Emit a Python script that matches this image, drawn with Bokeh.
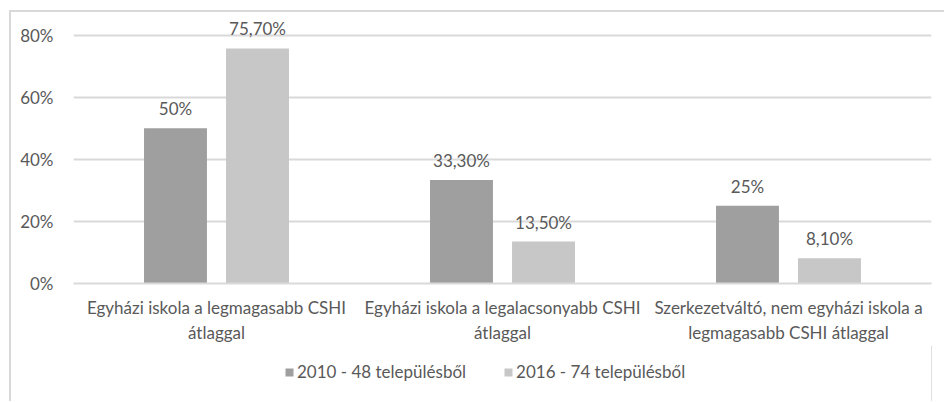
from bokeh.plotting import figure
from bokeh.layouts import column
from bokeh.models import ColumnDataSource, FixedTicker, Legend, LegendItem, LabelSet, Range1d
from bokeh.core.properties import value
from bokeh.embed import file_html
from bokeh.resources import INLINE

categories = ["Egyházi iskola a legmagasabb CSHI\nátlaggal",
              "Egyházi iskola a legalacsonyabb CSHI\nátlaggal",
              "Szerkezetváltó, nem egyházi iskola a\nlegmagasabb CSHI átlaggal"]
series_names = ["2010 - 48 településből", "2016 - 74 településből"]
values_2010 = [50.0, 33.3, 25.0]
values_2016 = [75.7, 13.5, 8.1]
labels_2010 = ["50%", "33,30%", "25%"]
labels_2016 = ["75,70%", "13,50%", "8,10%"]
y_ticks = [0, 20, 40, 60, 80]
y_tick_labels = ["0%", "20%", "40%", "60%", "80%"]

FONT = "Lato"
FS = "17px"
TXT = "#595959"
colors = ["#9f9f9f", "#c7c7c7"]

p = figure(width=933, height=333, output_backend="svg", toolbar_location=None,
           x_range=Range1d(0, 3), y_range=Range1d(0, 85))
p.min_border_left = 62
p.min_border_right = 13
p.min_border_top = 7
p.min_border_bottom = 61
p.outline_line_color = None
p.background_fill_color = "white"
p.border_fill_color = "white"

offs = 0.1434
w = 0.22
xs = [i + 0.5 for i in range(3)]
src1 = ColumnDataSource(dict(x=[x - offs for x in xs], top=values_2010, lab=labels_2010))
src2 = ColumnDataSource(dict(x=[x + offs for x in xs], top=values_2016, lab=labels_2016))
r1 = p.vbar(x="x", top="top", width=w, bottom=0, source=src1, fill_color=colors[0], line_color=None)
r2 = p.vbar(x="x", top="top", width=w, bottom=0, source=src2, fill_color=colors[1], line_color=None)

for src in (src1, src2):
    ls = LabelSet(x="x", y="top", text="lab", source=src, text_align="center",
                  text_baseline="bottom", y_offset=9, text_font=value(FONT),
                  text_font_size=FS, text_color=TXT)
    p.add_layout(ls)

p.yaxis.ticker = FixedTicker(ticks=y_ticks)
p.yaxis.major_label_overrides = {t: l for t, l in zip(y_ticks, y_tick_labels)}
p.yaxis.axis_line_color = None
p.yaxis.major_tick_line_color = None
p.yaxis.minor_tick_line_color = None
p.yaxis.major_label_standoff = 14
p.yaxis.major_label_text_font = FONT
p.yaxis.major_label_text_font_size = FS
p.yaxis.major_label_text_color = TXT

p.xaxis.ticker = FixedTicker(ticks=xs)
p.xaxis.major_label_overrides = {x: c for x, c in zip(xs, categories)}
p.xaxis.axis_line_color = "#d9d9d9"
p.xaxis.axis_line_width = 2
p.xaxis.major_tick_line_color = None
p.xaxis.minor_tick_line_color = None
p.xaxis.major_label_standoff = 7
p.xaxis.major_label_text_font = FONT
p.xaxis.major_label_text_font_size = FS
p.xaxis.major_label_text_color = TXT

p.xgrid.grid_line_color = None
p.ygrid.grid_line_color = "#d9d9d9"
p.ygrid.grid_line_width = 2

# legend strip
p2 = figure(width=933, height=56, output_backend="svg", toolbar_location=None,
            x_range=Range1d(0, 1), y_range=Range1d(0, 1),
            x_axis_location=None, y_axis_location=None, min_border=0)
p2.outline_line_color = None
p2.grid.grid_line_color = None
offscreen = ColumnDataSource(dict(x=[5.0], top=[1.0]))
d1 = p2.vbar(x="x", top="top", width=0.1, source=offscreen, fill_color=colors[0], line_color=None)
d2 = p2.vbar(x="x", top="top", width=0.1, source=offscreen, fill_color=colors[1], line_color=None)
legend = Legend(items=[LegendItem(label=series_names[0], renderers=[d1]),
                       LegendItem(label=series_names[1], renderers=[d2])],
                orientation="horizontal", location=(211, 19),
                label_text_font=FONT, label_text_font_size=FS, label_text_color=TXT,
                glyph_width=10, glyph_height=10, spacing=37, label_standoff=3,
                padding=0, margin=0,
                border_line_color=None, background_fill_alpha=0)
p2.add_layout(legend, "center")

layout = column(p, p2, spacing=0,
                styles={"border-top": "2px solid #d9d9d9", "border-left": "2px solid #d9d9d9",
                        "margin-top": "10px", "margin-left": "9px"})

open("out.html", "w").write(file_html(layout, INLINE))
